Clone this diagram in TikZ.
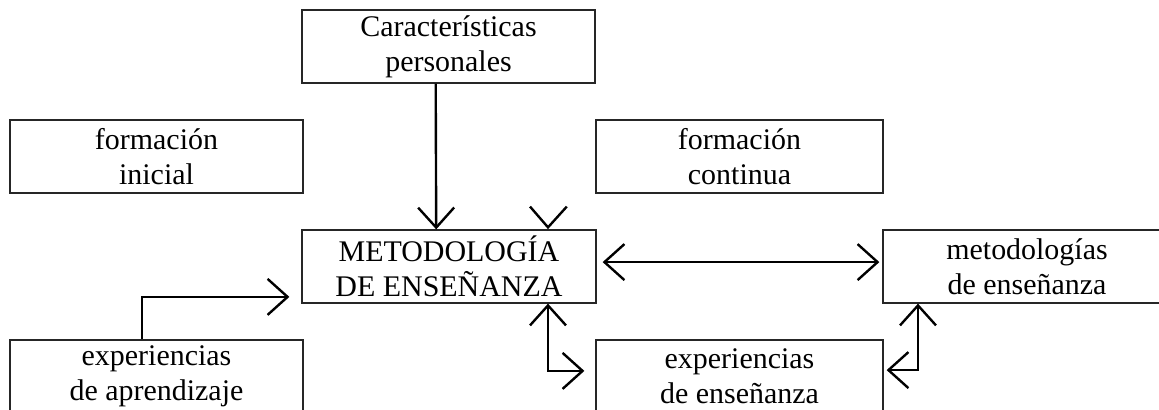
\documentclass[tikz,border=0pt]{standalone}
\usepackage{fontspec}
\setmainfont{Liberation Serif}
\usepackage{tikz}
\usetikzlibrary{positioning}
\usetikzlibrary{arrows.meta,calc}
\tikzstyle{caja}=[rectangle,draw=black!85,line width=0.9pt,minimum height=1.825cm,inner sep=0pt,align=center,font=\fontsize{21.3}{25}\selectfont]
\tikzstyle{flecha} = [draw,line width=1.7pt,-{Straight Barb[length=0.5cm,width=0.9cm,line width=1.7pt]}]
\tikzstyle{dobleflecha} = [draw,line width=1.7pt,{Straight Barb[length=0.5cm,width=0.9cm,line width=1.7pt]}-{Straight Barb[length=0.5cm,width=0.9cm,line width=1.7pt]}]
\tikzstyle{punta} = [draw,line width=1.7pt]

\begin{document}
\begin{tikzpicture}
    \useasboundingbox (0,0) rectangle (28.975,10.25);
    \clip (0,0) rectangle (28.975,10.25);
    % Primero las cajas
    \foreach \pos/\name/\ancho/\texto in {{(11.2125,9.0875)/carac/7.325cm/{Características\\personales}},
    {(3.9125,6.3375)/finicial/7.325cm/{formación\\inicial}}, {(18.4875,6.3375)/fcont/7.175cm/{formación\\continua}},
    {(11.225,3.5875)/metod/7.35cm/{METODOLOGÍA\\DE ENSEÑANZA}}, {(25.675,3.5875)/metods/7.2cm/{metodologías\\de enseñanza}},
    {(3.9125,0.8375)/expap/7.325cm/{experiencias\\de aprendizaje}}, {(18.4875,0.8375)/expen/7.175cm/{experiencias\\de enseñanza}}}
        \node[caja,minimum width=\ancho] (\name) at \pos {\texto};

    % Luego las flechas
    \path[flecha] ([xshift=-0.32cm]carac.south) -- ([xshift=-0.32cm]metod.north);
    \path[flecha] ([xshift=-0.3625cm]expap.north) |- ([xshift=-0.3cm,yshift=-0.76cm]metod.west);
    \path[dobleflecha] ([xshift=0.15cm,yshift=0.11cm]metod.east) -- ([xshift=-0.075cm,yshift=0.11cm]metods.west);
    \path[dobleflecha] ([xshift=2.475cm]metod.south) |- ([xshift=-0.275cm,yshift=0.14cm]expen.west);
    \path[dobleflecha] ([xshift=-2.725cm]metods.south) |- ([xshift=0.075cm,yshift=0.16cm]expen.east);

    % punta suelta
    \coordinate (suelta) at ([xshift=2.475cm,yshift=0.05cm]metod.north);
    \path[punta] ($(suelta)+(-0.45,0.52)$) -- (suelta) -- ($(suelta)+(0.47,0.52)$);
\end{tikzpicture}
\end{document}
